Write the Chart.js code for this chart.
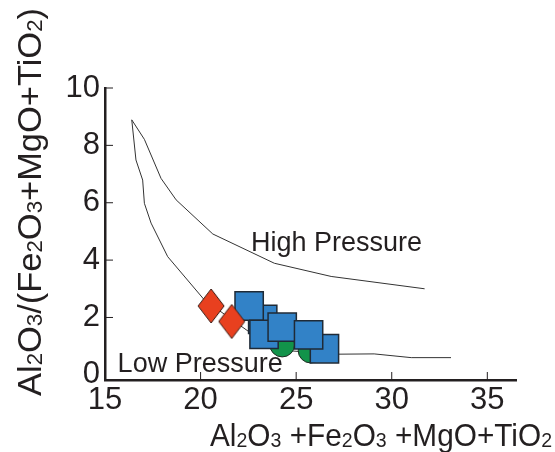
<!DOCTYPE html>
<html>
<head>
<meta charset="utf-8">
<script src="https://cdn.jsdelivr.net/npm/chart.js@4.4.1/dist/chart.umd.min.js"></script>
<style>
html, body { margin: 0; padding: 0; background: #fff; }
#wrap { width: 555px; height: 452px; }
</style>
</head>
<body>
<div id="wrap"><canvas id="plot" width="555" height="452"></canvas></div>
<script>
// field boundaries
const highX = [16.4, 17.06, 17.93, 18.72, 20.64, 23.86, 26.83, 31.72];
const highY = [8.89, 8.21, 6.85, 6.10, 4.91, 3.89, 3.43, 3.00];
const lowX = [16.4, 16.62, 16.97, 17.06, 17.41, 18.28, 20.2, 22.64, 24.4, 27.18, 29.08, 31.02, 33.1];
const lowY = [8.89, 7.49, 6.79, 5.98, 5.29, 4.12, 2.61, 1.45, 0.85, 0.72, 0.73, 0.6, 0.6];

// samples
const redX = [20.55, 21.63];
const redY = [2.40, 1.86];
const blueX = [23.25, 22.54, 23.32, 26.48, 24.27, 25.65];
const blueY = [1.93, 2.40, 1.41, 0.91, 1.66, 1.39];
const greenX = [24.27, 25.76];
const greenY = [1.06, 0.85];

const xTicks = [15, 20, 25, 30, 35];
const yTicks = [0, 2, 4, 6, 8, 10];

const ink = '#231f20';
const fam = '"Liberation Sans", Arial, sans-serif';

function pts(xs, ys) {
    return xs.map((x, i) => ({x: x, y: ys[i]}));
}

// tall diamond marker
function diamond(w, h, fill, stroke) {
    const c = document.createElement('canvas');
    c.width = w + 2;
    c.height = h + 2;
    const g = c.getContext('2d');
    g.beginPath();
    g.moveTo(c.width / 2, 1);
    g.lineTo(c.width - 1, c.height / 2);
    g.lineTo(c.width / 2, c.height - 1);
    g.lineTo(1, c.height / 2);
    g.closePath();
    g.fillStyle = fill;
    g.fill();
    g.strokeStyle = stroke;
    g.lineWidth = 1;
    g.stroke();
    return c;
}

// text with small subscripts, squeezed to a given length
function richText(ctx, parts, x, y, big, small, len) {
    let total = 0;
    parts.forEach(p => {
        ctx.font = (p[1] ? small : big) + 'px ' + fam;
        total += ctx.measureText(p[0]).width;
    });
    ctx.save();
    ctx.translate(x, y);
    ctx.scale(len / total, 1);
    let cx = 0;
    parts.forEach(p => {
        ctx.font = (p[1] ? small : big) + 'px ' + fam;
        ctx.fillText(p[0], cx, p[1] ? 1 : 0);
        cx += ctx.measureText(p[0]).width;
    });
    ctx.restore();
}

const xTitle = [['Al', 0], ['2', 1], ['O', 0], ['3', 1], [' +Fe', 0], ['2', 1], ['O', 0], ['3', 1], [' +MgO+TiO', 0], ['2', 1]];
const yTitle = [['Al', 0], ['2', 1], ['O', 0], ['3', 1], ['/(Fe', 0], ['2', 1], ['O', 0], ['3', 1], ['+MgO+TiO', 0], ['2', 1], [')', 0]];

const extras = {
    id: 'extras',
    afterDraw(chart) {
        const ctx = chart.ctx;
        const xs = chart.scales.x, ys = chart.scales.y;
        ctx.save();
        ctx.strokeStyle = ink;
        ctx.lineWidth = 1;
        // inward tick marks
        yTicks.slice(1).forEach(v => {
            const p = ys.getPixelForValue(v);
            ctx.beginPath();
            ctx.moveTo(xs.left, p);
            ctx.lineTo(xs.left + 8, p);
            ctx.stroke();
        });
        xTicks.slice(1).forEach(v => {
            const p = xs.getPixelForValue(v);
            ctx.beginPath();
            ctx.moveTo(p, ys.bottom);
            ctx.lineTo(p, ys.bottom - 8);
            ctx.stroke();
        });

        ctx.fillStyle = ink;
        ctx.textBaseline = 'alphabetic';
        ctx.textAlign = 'left';
        ctx.font = '27px ' + fam;
        ctx.fillText('High Pressure', xs.getPixelForValue(22.64), ys.getPixelForValue(4.3));
        ctx.fillText('Low Pressure', xs.getPixelForValue(15.66), ys.getPixelForValue(0.11));

        richText(ctx, xTitle, 210, 446, 32, 21, 342);

        ctx.translate(41, 396);
        ctx.rotate(-Math.PI / 2);
        richText(ctx, yTitle, 0, 0, 34, 22, 388);
        ctx.restore();
    }
};

const tickFont = {size: 31, family: fam};

new Chart(document.getElementById('plot'), {
    type: 'scatter',
    data: {
        datasets: [
            {
                data: pts(redX, redY),
                pointStyle: diamond(26, 34, '#e8401f', '#3a1a12'),
                pointRadius: 17
            },
            {
                data: pts(blueX, blueY),
                pointStyle: 'rect',
                pointRadius: 20,
                backgroundColor: '#3282c7',
                borderColor: '#1f2a36',
                borderWidth: 1.5
            },
            {
                data: pts(greenX, greenY),
                pointStyle: 'circle',
                pointRadius: 12.5,
                backgroundColor: '#12934a',
                borderColor: '#1f2a22',
                borderWidth: 1
            },
            {
                data: pts(highX, highY),
                showLine: true,
                pointRadius: 0,
                borderColor: '#333',
                borderWidth: 1,
                fill: false
            },
            {
                data: pts(lowX, lowY),
                showLine: true,
                pointRadius: 0,
                borderColor: '#333',
                borderWidth: 1,
                fill: false
            }
        ]
    },
    options: {
        responsive: false,
        animation: false,
        events: [],
        devicePixelRatio: 1,
        layout: {padding: {top: 88, right: 39, left: 0, bottom: 0}},
        plugins: {legend: {display: false}, tooltip: {enabled: false}},
        scales: {
            x: {
                type: 'linear',
                min: 15,
                max: 36.5,
                afterBuildTicks: s => { s.ticks = xTicks.map(v => ({value: v})); },
                afterFit: s => { s.height = 72; },
                grid: {display: false, drawTicks: false},
                border: {color: ink, width: 2.5},
                ticks: {padding: 2, font: tickFont, color: ink, maxRotation: 0, autoSkip: false}
            },
            y: {
                type: 'linear',
                min: -0.18,
                max: 10,
                afterBuildTicks: s => { s.ticks = yTicks.map(v => ({value: v})); },
                afterFit: s => { s.width = 105; },
                grid: {display: false, drawTicks: false},
                border: {color: ink, width: 2.5},
                ticks: {padding: 5, font: tickFont, color: ink, autoSkip: false}
            }
        }
    },
    plugins: [extras]
});
</script>
</body>
</html>
